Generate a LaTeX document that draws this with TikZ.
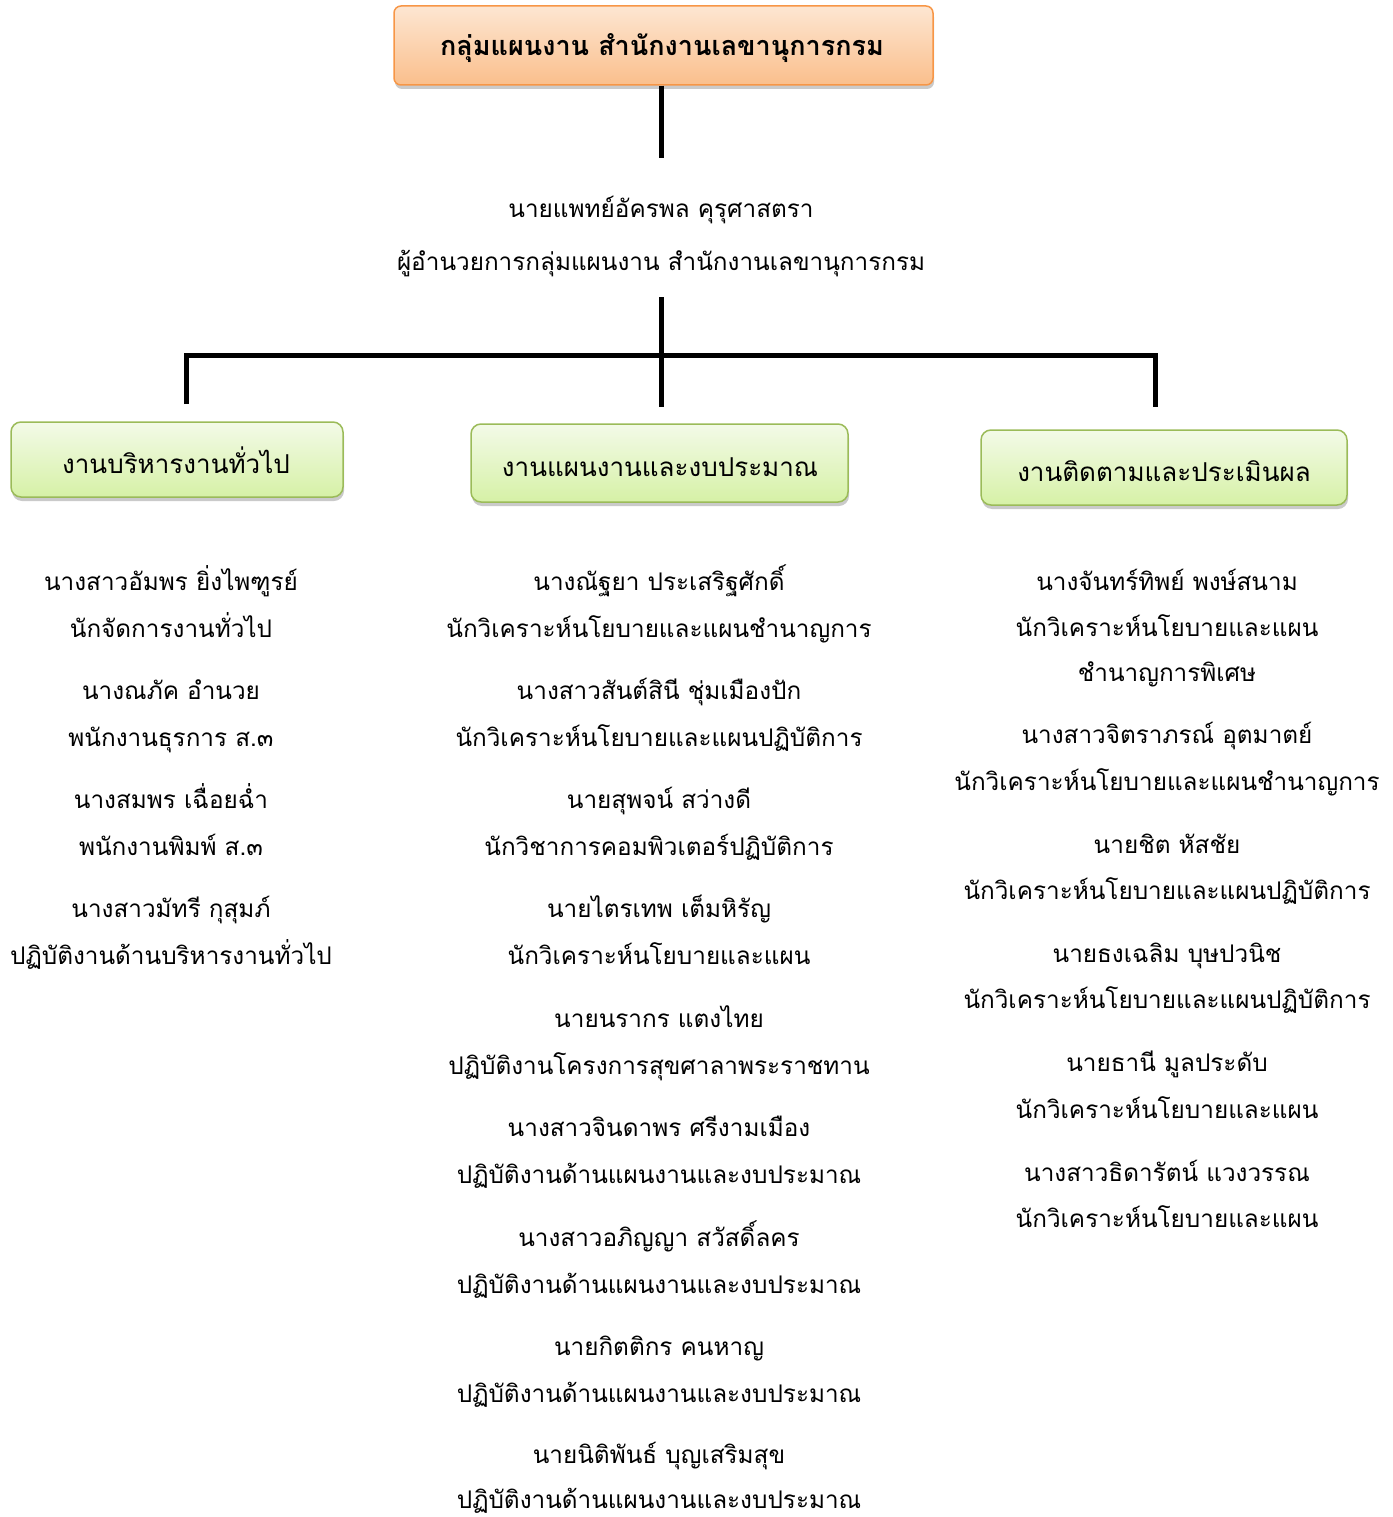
\documentclass[tikz,border=0pt]{standalone}
\usepackage{fontspec}
\newfontfamily\thai[Script=Thai]{Loma}
\usetikzlibrary{shadows}
\definecolor{orgtop}{HTML}{FDE6D2}
\definecolor{orgbot}{HTML}{FABF8C}
\definecolor{orgline}{HTML}{F79646}
\definecolor{grntop}{HTML}{F3FAE8}
\definecolor{grnbot}{HTML}{D6F1A6}
\definecolor{grnline}{HTML}{9BBB59}
\tikzset{
  txt/.style={anchor=base, inner sep=0pt, font=\thai\fontsize{24.3}{24.3}\selectfont},
  boxtxt/.style={anchor=base, inner sep=0pt, font=\thai\fontsize{26}{26}\selectfont},
  headbox/.style={draw=orgline, line width=1.5pt, rounded corners=7pt,
    top color=orgtop, bottom color=orgbot,
    drop shadow={shadow xshift=1pt, shadow yshift=-4pt, opacity=0.35, fill=black!60}},
  unitbox/.style={draw=grnline, line width=1.5pt, rounded corners=10pt,
    top color=grntop, bottom color=grnbot,
    drop shadow={shadow xshift=1pt, shadow yshift=-4pt, opacity=0.35, fill=black!60}},
  conn/.style={line width=5pt, black, line join=miter}
}
\begin{document}
\begin{tikzpicture}[x=1pt,y=-1pt]
\useasboundingbox (0,0) rectangle (1392,1517);

% boxes
\node[headbox, minimum width=539pt, minimum height=79pt] (top) at (663.5,45.5) {};
\node[boxtxt, font=\thai\bfseries\fontsize{27}{27}\selectfont] (toptxt) at (662,56) {กลุ่มแผนงาน สำนักงานเลขานุการกรม};

\node[unitbox, minimum width=332pt, minimum height=75pt] (gen) at (177,459.5) {};
\node[unitbox, minimum width=377pt, minimum height=78pt] (plan) at (659.5,463) {};
\node[unitbox, minimum width=366pt, minimum height=75pt] (mon) at (1164,467.5) {};
\node[boxtxt] (gent) at (176,473) {งานบริหารงานทั่วไป};
\node[boxtxt] (plant) at (660,476) {งานแผนงานและงบประมาณ};
\node[boxtxt] (mont) at (1164,481) {งานติดตามและประเมินผล};

% director
\node[txt] (d1) at (661,218) {นายแพทย์อัครพล คุรุศาสตรา};
\node[txt] (d2) at (661,270) {ผู้อำนวยการกลุ่มแผนงาน สำนักงานเลขานุการกรม};

% connectors
\coordinate (c1) at (661,158);
\coordinate (c2) at (661,297);
\coordinate (c3) at (661,407);
\coordinate (lb) at (186,404);
\coordinate (rb) at (1155,407);
\coordinate (hy) at (661,355);
\draw[conn] (c1 |- top.south) -- (c1);
\draw[conn] (c2) -- (c3);
\draw[conn] (lb) |- (hy) -| (rb);

% left column
\node[txt] (a1) at (171,590) {นางสาวอัมพร ยิ่งไพฑูรย์};
\node[txt] (a1t) at (171,637) {นักจัดการงานทั่วไป};
\node[txt] (a2) at (171,699) {นางณภัค อำนวย};
\node[txt] (a2t) at (171,746) {พนักงานธุรการ ส.๓};
\node[txt] (a3) at (171,808) {นางสมพร เฉื่อยฉ่ำ};
\node[txt] (a3t) at (171,855) {พนักงานพิมพ์ ส.๓};
\node[txt] (a4) at (171,917) {นางสาวมัทรี กุสุมภ์};
\node[txt] (a4t) at (171,964) {ปฏิบัติงานด้านบริหารงานทั่วไป};

% center column
\node[txt] (b1) at (659,590) {นางณัฐยา ประเสริฐศักดิ์};
\node[txt] (b1t) at (659,637) {นักวิเคราะห์นโยบายและแผนชำนาญการ};
\node[txt] (b2) at (659,699) {นางสาวสันต์สินี ชุ่มเมืองปัก};
\node[txt] (b2t) at (659,746) {นักวิเคราะห์นโยบายและแผนปฏิบัติการ};
\node[txt] (b3) at (659,808) {นายสุพจน์ สว่างดี};
\node[txt] (b3t) at (659,855) {นักวิชาการคอมพิวเตอร์ปฏิบัติการ};
\node[txt] (b4) at (659,917) {นายไตรเทพ เต็มหิรัญ};
\node[txt] (b4t) at (659,964) {นักวิเคราะห์นโยบายและแผน};
\node[txt] (b5) at (659,1027) {นายนรากร แตงไทย};
\node[txt] (b5t) at (659,1074) {ปฏิบัติงานโครงการสุขศาลาพระราชทาน};
\node[txt] (b6) at (659,1136) {นางสาวจินดาพร ศรีงามเมือง};
\node[txt] (b6t) at (659,1183) {ปฏิบัติงานด้านแผนงานและงบประมาณ};
\node[txt] (b7) at (659,1246) {นางสาวอภิญญา สวัสดิ์ลคร};
\node[txt] (b7t) at (659,1293) {ปฏิบัติงานด้านแผนงานและงบประมาณ};
\node[txt] (b8) at (659,1355) {นายกิตติกร คนหาญ};
\node[txt] (b8t) at (659,1402) {ปฏิบัติงานด้านแผนงานและงบประมาณ};
\node[txt] (b9) at (659,1463) {นายนิติพันธ์ บุญเสริมสุข};
\node[txt] (b9t) at (659,1508) {ปฏิบัติงานด้านแผนงานและงบประมาณ};

% right column
\node[txt] (r1) at (1167,590) {นางจันทร์ทิพย์ พงษ์สนาม};
\node[txt] (r1t) at (1167,636) {นักวิเคราะห์นโยบายและแผน};
\node[txt] (r1u) at (1167,681) {ชำนาญการพิเศษ};
\node[txt] (r2) at (1167,743) {นางสาวจิตราภรณ์ อุตมาตย์};
\node[txt] (r2t) at (1167,790) {นักวิเคราะห์นโยบายและแผนชำนาญการ};
\node[txt] (r3) at (1167,853) {นายชิต หัสชัย};
\node[txt] (r3t) at (1167,899) {นักวิเคราะห์นโยบายและแผนปฏิบัติการ};
\node[txt] (r4) at (1167,962) {นายธงเฉลิม บุษปวนิช};
\node[txt] (r4t) at (1167,1008) {นักวิเคราะห์นโยบายและแผนปฏิบัติการ};
\node[txt] (r5) at (1167,1071) {นายธานี มูลประดับ};
\node[txt] (r5t) at (1167,1118) {นักวิเคราะห์นโยบายและแผน};
\node[txt] (r6) at (1167,1181) {นางสาวธิดารัตน์ แวงวรรณ};
\node[txt] (r6t) at (1167,1227) {นักวิเคราะห์นโยบายและแผน};
\end{tikzpicture}
\end{document}
